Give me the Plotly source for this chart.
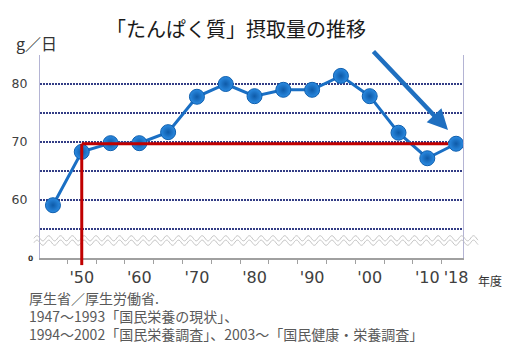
import numpy as np
import plotly.graph_objects as go

# ---- data ----
YEARS = [1947, 1950, 1955, 1960, 1965, 1970, 1975, 1980, 1985, 1990, 1995, 2000, 2005, 2010, 2018]
PROTEIN = [59.1, 68.3, 69.8, 69.8, 71.7, 77.8, 80.0, 77.9, 79.0, 79.0, 81.4, 77.9, 71.6, 67.2, 69.7]
TICK_LABELS = {1950: "'50", 1960: "'60", 1970: "'70", 1980: "'80", 1990: "'90",
               2000: "'00", 2010: "'10", 2018: "'18"}
Y_GRID = [55, 60, 65, 70, 75, 80, 85]
Y_LABELS = {60: "60", 70: "70", 80: "80"}

TITLE = "「たんぱく質」摂取量の推移"
UNIT = "g／日"
XUNIT = "年度"
SOURCE = ["厚生省／厚生労働省.",
          "1947～1993「国民栄養の現状」、",
          "1994～2002「国民栄養調査」、2003～「国民健康・栄養調査」"]

FONT = "Noto Sans CJK JP"
NUMFONT = "DejaVu Sans"
W, H = 519, 355
L, R, T, B = 40, 56, 55, 97
PW, PH = W - L - R, H - T - B

cats = [str(y) for y in YEARS]

fig = go.Figure()
fig.add_trace(go.Scatter(
    x=cats, y=PROTEIN, mode="lines+markers",
    line=dict(color="#1a6fc4", width=3),
    marker=dict(size=15, color="#2b8be2",
                gradient=dict(type="radial", color="#0e5aa8"),
                line=dict(color="#0f5fae", width=1)),
    hoverinfo="x+y", showlegend=False, cliponaxis=False,
))

def px2paper(px, py):
    return (px - L) / PW, (H - B - py) / PH

shapes = []
# axis break wave (decoration)
xs = np.linspace(34, 478, 500)
for off in (-2.2, 2.2):
    ys = 240.5 + off - 2.6 * np.sin(2 * np.pi * (xs - 34) / 11.8)
    pts = [px2paper(a, b) for a, b in zip(xs, ys)]
    path = "M " + " L ".join(f"{a:.5f},{b:.5f}" for a, b in pts)
    shapes.append(dict(type="path", xref="paper", yref="paper", path=path,
                       line=dict(color="#c4c4c4", width=1), layer="above"))

# red reference lines (level of latest value, from 1950)
i50 = YEARS.index(1950)
shapes.append(dict(type="line", xref="x", yref="y", x0=i50, x1=len(YEARS) - 1.28,
                   y0=PROTEIN[-1], y1=PROTEIN[-1],
                   line=dict(color="#c00000", width=3), layer="above"))
shapes.append(dict(type="line", xref="x", yref="paper", x0=i50, x1=i50,
                   y0=-0.035, y1=0, line=dict(color="#c00000", width=3), layer="above"))
shapes.append(dict(type="line", xref="x", yref="y", x0=i50, x1=i50,
                   y0=50, y1=PROTEIN[-1], line=dict(color="#c00000", width=3), layer="above"))

annotations = []
def txt(text, px, py, size, color, anchor="left", family=FONT):
    x, y = px2paper(px, py)
    annotations.append(dict(text=text, xref="paper", yref="paper", x=x, y=y,
                            xanchor=anchor, yanchor="middle", align="left", showarrow=False,
                            font=dict(size=size, color=color, family=family)))

txt(TITLE, 236, 28, 20, "#1a1a1a", "center")
txt(UNIT, 14, 43, 16, "#333333")
txt("<b>0</b>", 35, 258, 7.5, "#333333", "right", NUMFONT)
txt(XUNIT, 476, 280, 12, "#333333")
txt("<br>".join(SOURCE), 27, 316, 14, "#595959")

# trend arrow
tx, ty = px2paper(448, 130)
annotations.append(dict(text="", xref="paper", yref="paper", x=tx, y=ty,
                        ax=-76, ay=-80, showarrow=True, arrowhead=2, arrowsize=0.9,
                        arrowwidth=4.5, arrowcolor="#1f6fc0"))

fig.update_layout(
    width=W, height=H, margin=dict(l=L, r=R, t=T, b=B),
    paper_bgcolor="white", plot_bgcolor="white",
    font=dict(family=FONT, color="#404040"),
    shapes=shapes, annotations=annotations,
    xaxis=dict(type="category", range=[-0.45, len(YEARS) - 1 + 0.24],
               tickmode="array", tickvals=cats,
               ticktext=[TICK_LABELS.get(y, "") for y in YEARS],
               tickson="boundaries", ticks="outside", ticklen=4, tickcolor="#a0a0a0",
               tickangle=0, automargin=False, ticklabelstandoff=4,
               showgrid=False, showline=True, linecolor="#a0a0a0", linewidth=1.5,
               tickfont=dict(size=16, color="#404040", family=NUMFONT), zeroline=False),
    yaxis=dict(range=[50, 85], tickmode="array", tickvals=Y_GRID,
               ticktext=[Y_LABELS.get(v, "") for v in Y_GRID],
               showgrid=True, gridcolor="#333d85", gridwidth=1.5, griddash="2px,1px",
               showline=True, mirror=True, linecolor="#b4b4d4", linewidth=1.2,
               ticks="", ticklabelstandoff=9, automargin=False,
               tickfont=dict(size=12.5, color="#404040", family=NUMFONT), zeroline=False),
)

fig.write_html("out.html", config={"displayModeBar": False},
               post_script="document.body.style.margin='0';")
